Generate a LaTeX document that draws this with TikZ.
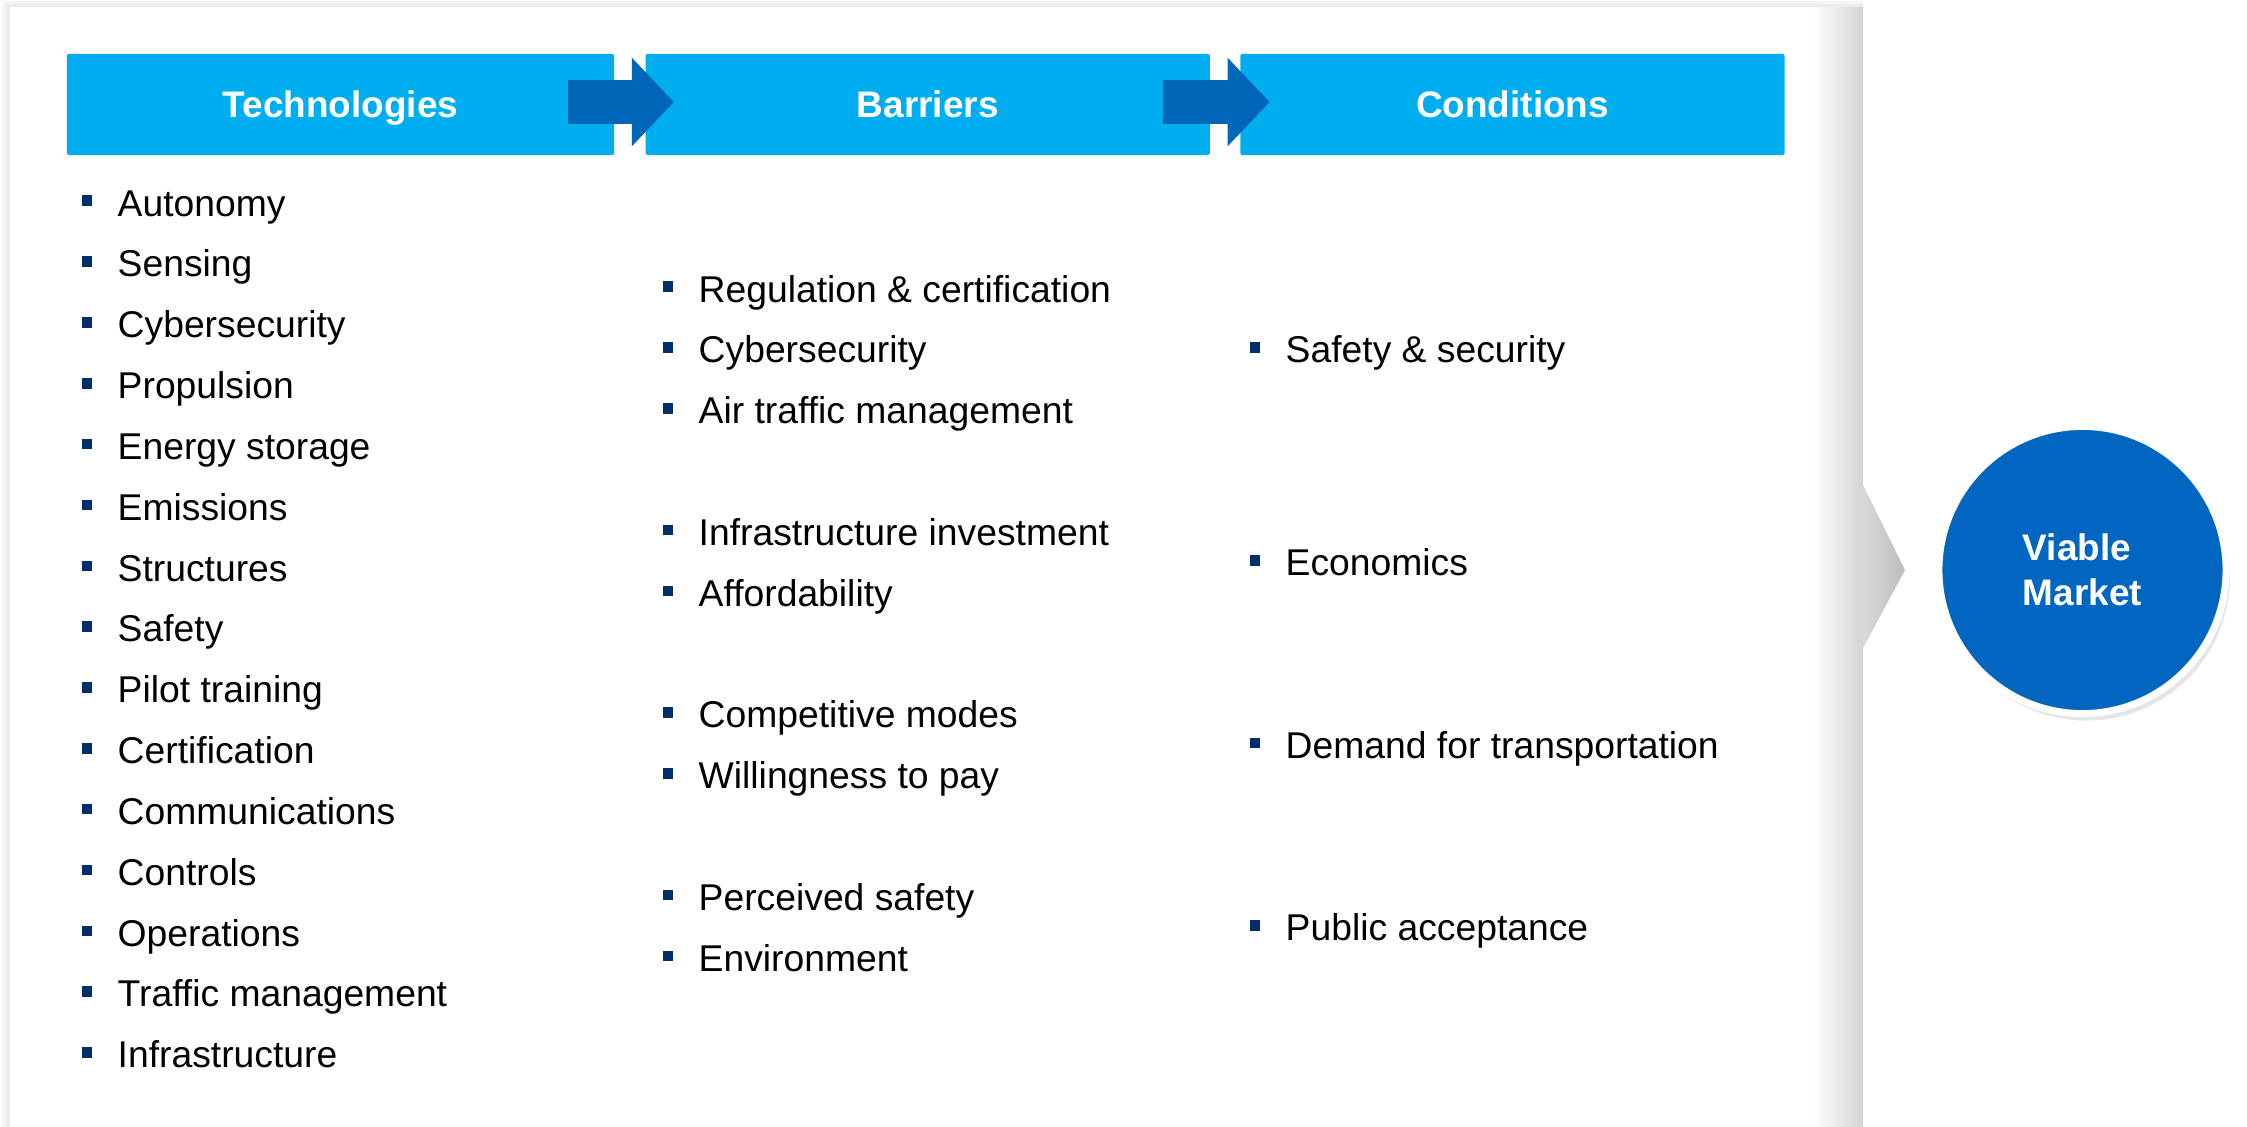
\documentclass[tikz,border=0pt]{standalone}
\usepackage{fontspec}
\setmainfont{Liberation Sans}
\usetikzlibrary{positioning,arrows.meta,shadows}
\definecolor{hdrblue}{HTML}{00AEEF}
\definecolor{arrblue}{HTML}{0066B8}
\definecolor{circblue}{HTML}{0066BF}
\definecolor{navy}{HTML}{002F6C}
\newcommand{\bul}{\textcolor{navy}{\rule[1mm]{1.05mm}{1.05mm}}\hspace{2.55mm}}

\begin{document}
\begin{tikzpicture}[x=0.01cm,y=-0.01cm,node distance=6.08mm,
  font=\fontsize{10.6}{12.8}\selectfont,
  head/.style={fill=hdrblue,text=white,font=\fontsize{10.5}{12.8}\selectfont\bfseries,minimum height=1.01cm,text depth=0pt,rounded corners=0.6pt,inner sep=0pt},
  item/.style={anchor=base west,inner sep=0pt},
  flow/.style={draw=arrblue,line width=4.3mm,-{Triangle[length=4.2mm,width=8.6mm]}},
  goal/.style={circle,fill=circblue,draw=white,line width=0.07cm,minimum size=2.87cm,text=white,font=\fontsize{10.5}{12.8}\selectfont\bfseries,align=left,drop shadow={shadow xshift=0.4mm,shadow yshift=-0.7mm,opacity=0.2}}]
\useasboundingbox (0,0) rectangle (2247,1127);
% panel
\fill[black!4] (2,1) rectangle (1863,1127);
\fill[black!8] (6,4) rectangle (1863,1127);
\fill[white] (10,7) rectangle (1863,1127);
\shade[left color=white,right color=black!17] (1813,7) rectangle (1863,1127);
\shade[left color=black!15,right color=black!26] (1863,485) -- (1905,570) -- (1863,648) -- cycle;
% headers
\node[head,minimum width=5.47cm] (tech) at (340.5,104.5) {Technologies};
\node[head,minimum width=5.64cm,right=3mm of tech] (bar) {Barriers};
\node[head,minimum width=5.44cm,right=2.9mm of bar] (cond) {Conditions};
\draw[flow] ([xshift=-4.7mm,yshift=0.25mm]tech.east) -- ([xshift=2.9mm,yshift=0.25mm]bar.west);
\draw[flow] ([xshift=-4.75mm,yshift=0.25mm]bar.east) -- ([xshift=3mm,yshift=0.25mm]cond.west);
% technologies
\node[item] (t1) at (81,216) {\bul Autonomy};
\node[below=of t1.base west,item] (t2) {\bul Sensing};
\node[below=of t2.base west,item] (t3) {\bul Cybersecurity};
\node[below=of t3.base west,item] (t4) {\bul Propulsion};
\node[below=of t4.base west,item] (t5) {\bul Energy storage};
\node[below=of t5.base west,item] (t6) {\bul Emissions};
\node[below=of t6.base west,item] (t7) {\bul Structures};
\node[below=of t7.base west,item] (t8) {\bul Safety};
\node[below=of t8.base west,item] (t9) {\bul Pilot training};
\node[below=of t9.base west,item] (t10) {\bul Certification};
\node[below=of t10.base west,item] (t11) {\bul Communications};
\node[below=of t11.base west,item] (t12) {\bul Controls};
\node[below=of t12.base west,item] (t13) {\bul Operations};
\node[below=of t13.base west,item] (t14) {\bul Traffic management};
\node[below=of t14.base west,item] (t15) {\bul Infrastructure};
% barriers
\node[item] (b1) at (662,302) {\bul Regulation \& certification};
\node[below=of b1.base west,item] (b2) {\bul Cybersecurity};
\node[below=of b2.base west,item] (b3) {\bul Air traffic management};
\node[below=12.16mm of b3.base west,item] (b4) {\bul Infrastructure investment};
\node[below=of b4.base west,item] (b5) {\bul Affordability};
\node[below=12.16mm of b5.base west,item] (b6) {\bul Competitive modes};
\node[below=of b6.base west,item] (b7) {\bul Willingness to pay};
\node[below=12.16mm of b7.base west,item] (b8) {\bul Perceived safety};
\node[below=of b8.base west,item] (b9) {\bul Environment};
% conditions
\node[item] (c1) at (1249,362.8) {\bul Safety \& security};
\node[below=21.28mm of c1.base west,item] (c2) {\bul Economics};
\node[below=18.24mm of c2.base west,item] (c3) {\bul Demand for transportation};
\node[below=18.24mm of c3.base west,item] (c4) {\bul Public acceptance};
% result
\node[goal] (vm) at (2082.5,570) {Viable\\Market};
\end{tikzpicture}
\end{document}
